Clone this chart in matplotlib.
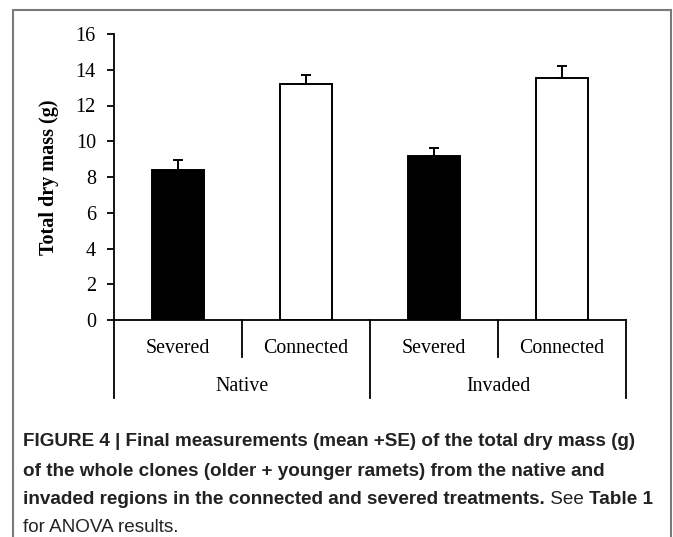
import matplotlib
matplotlib.use('Agg')
import matplotlib.pyplot as plt
import matplotlib.transforms as mtransforms
from matplotlib.patches import Rectangle

# --> Data
treatments = ['Severed', 'Connected', 'Severed', 'Connected']
regions = ['Native', 'Invaded']
mean_mass = [8.4, 13.2, 9.2, 13.55]
se_mass = [0.55, 0.5, 0.4, 0.65]
bar_colors = ['black', 'white', 'black', 'white']
yticks = [0, 2, 4, 6, 8, 10, 12, 14, 16]

serif = 'Liberation Serif'
sans = 'Liberation Sans'
ink = '#222222'

fig = plt.figure(figsize=(6.73, 5.37), dpi=100)
ax = fig.add_axes([114 / 673, 1 - 320 / 537, 512 / 673, 286 / 537])

# --> Bars with upper error bars only
x = [i + 0.5 for i in range(len(mean_mass))]
ax.bar(x, mean_mass, width=0.41, color=bar_colors, edgecolor='black', linewidth=1.4)
ax.errorbar(x, mean_mass, yerr=[[0] * len(se_mass), se_mass], fmt='none',
            ecolor='black', elinewidth=1.4, capsize=3.5, capthick=1.4)

ax.set_xlim(0, 4)
ax.set_ylim(0, 16)
ax.set_yticks(yticks)
ax.set_yticklabels([str(t) for t in yticks], fontfamily=serif, fontsize=14.5)
ax.tick_params(axis='y', direction='out', length=5, width=1.3, pad=8)
ax.set_xticks([])
for side in ['top', 'right']:
    ax.spines[side].set_visible(False)
for side in ['left', 'bottom']:
    ax.spines[side].set_linewidth(1.3)

ax.set_ylabel('Total dry mass (g)', fontfamily=serif, fontsize=14.5,
              fontweight='bold', labelpad=12)

# --> Grouped category axis below the plot
trans = mtransforms.blended_transform_factory(ax.transData, ax.transAxes)
for xs in [1, 3]:
    ax.plot([xs, xs], [0, -0.129], transform=trans, color='black', lw=1.3, clip_on=False)
for xs in [0, 2, 4]:
    ax.plot([xs, xs], [0, -0.273], transform=trans, color='black', lw=1.3, clip_on=False)
for xi, lab in zip(x, treatments):
    ax.text(xi, -0.098, lab, transform=trans, ha='center', va='center',
            fontfamily=serif, fontsize=14.3)
for gi, lab in enumerate(regions):
    ax.text(2 * gi + 1, -0.231, lab, transform=trans, ha='center', va='center',
            fontfamily=serif, fontsize=14.3)

# --> Frame around the figure panel
fig.patches.append(Rectangle((13 / 673, -0.05), 658 / 673, 1.05 - 10 / 537,
                             transform=fig.transFigure, fill=False,
                             edgecolor='#7a7a7a', linewidth=1.5))

# --> Caption, with mixed bold / regular runs
cap_size = 13.6
lines = [
    [('FIGURE 4 | Final measurements (mean +SE) of the total dry mass (g)', 'bold')],
    [('of the whole clones (older + younger ramets) from the native and', 'bold')],
    [('invaded regions in the connected and severed treatments.', 'bold'),
     (' See ', 'normal'), ('Table 1', 'bold')],
    [('for ANOVA results.', 'normal')],
]
line_y = [442, 471, 499, 527]
renderer = fig.canvas.get_renderer()
for runs, yp in zip(lines, line_y):
    xpos = 23
    for txt, weight in runs:
        t = fig.text(xpos / 673, 1 - yp / 537, txt, ha='left', va='center',
                     fontfamily=sans, fontsize=cap_size, fontweight=weight, color=ink)
        xpos += t.get_window_extent(renderer).width

fig.savefig('out.png', dpi=100)
